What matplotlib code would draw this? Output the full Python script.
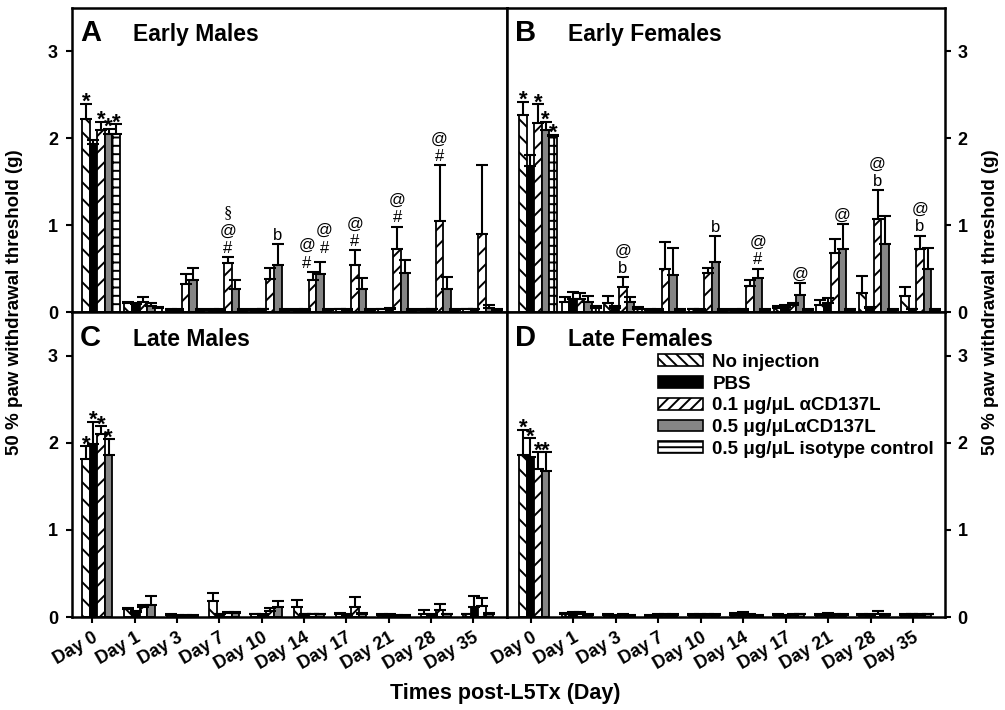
import numpy as np
import matplotlib.pyplot as plt
from matplotlib.patches import Patch

plt.rcParams['font.family'] = ['Liberation Sans', 'DejaVu Sans']
plt.rcParams['font.weight'] = 'bold'
plt.rcParams['hatch.linewidth'] = 1.4
plt.rcParams['hatch.color'] = 'black'

dias = ['Day 0', 'Day 1', 'Day 3', 'Day 7', 'Day 10', 'Day 14', 'Day 17',
        'Day 21', 'Day 28', 'Day 35']
grupos = ['No injection', 'PBS', '0.1 \u03bcg/\u03bcL \u03b1CD137L',
          '0.5 \u03bcg/\u03bcL\u03b1CD137L', '0.5 \u03bcg/\u03bcL isotype control']

# A - Early Males
sem_inj_a = [2.22, 0.10, 0.02, 0.02, 0.02, 0.02, 0.03, 0.03, 0.02, 0.03]
sem_inj_a_err = [0.18, 0.02, 0.01, 0.01, 0.01, 0.01, 0.01, 0.01, 0.01, 0.01]
pbs_a = [1.93, 0.09, 0.02, 0.02, 0.03, 0.02, 0.02, 0.04, 0.03, 0.03]
pbs_a_err = [0.05, 0.01, 0.01, 0.01, 0.01, 0.01, 0.01, 0.01, 0.01, 0.01]
baixa_a = [2.10, 0.12, 0.32, 0.56, 0.38, 0.37, 0.54, 0.72, 1.05, 0.90]
baixa_a_err = [0.09, 0.05, 0.12, 0.07, 0.13, 0.09, 0.17, 0.26, 0.64, 0.79]
alta_a = [2.05, 0.07, 0.37, 0.26, 0.54, 0.44, 0.27, 0.45, 0.26, 0.05]
alta_a_err = [0.06, 0.03, 0.14, 0.11, 0.24, 0.13, 0.12, 0.15, 0.14, 0.03]
iso_a = [2.05, 0.05, 0.02, 0.02, 0.02, 0.02, 0.02, 0.02, 0.02, 0.02]
iso_a_err = [0.11, 0.01, 0.01, 0.01, 0.01, 0.01, 0.01, 0.01, 0.01, 0.01]

# B - Early Females
sem_inj_b = [2.27, 0.12, 0.10, 0.02, 0.03, 0.02, 0.05, 0.08, 0.22, 0.18]
sem_inj_b_err = [0.15, 0.05, 0.08, 0.01, 0.01, 0.01, 0.02, 0.06, 0.20, 0.11]
pbs_b = [1.68, 0.15, 0.05, 0.02, 0.02, 0.02, 0.06, 0.10, 0.05, 0.03]
pbs_b_err = [0.13, 0.08, 0.02, 0.01, 0.01, 0.01, 0.02, 0.06, 0.01, 0.01]
baixa_b = [2.18, 0.15, 0.29, 0.50, 0.45, 0.30, 0.08, 0.68, 1.07, 0.73]
baixa_b_err = [0.21, 0.07, 0.11, 0.31, 0.06, 0.07, 0.02, 0.16, 0.33, 0.15]
alta_b = [2.09, 0.12, 0.12, 0.43, 0.58, 0.39, 0.20, 0.73, 0.78, 0.50]
alta_b_err = [0.10, 0.06, 0.05, 0.31, 0.29, 0.11, 0.13, 0.28, 0.32, 0.24]
iso_b = [2.03, 0.05, 0.04, 0.02, 0.02, 0.02, 0.02, 0.02, 0.02, 0.02]
iso_b_err = [0.01, 0.02, 0.02, 0.01, 0.01, 0.01, 0.01, 0.01, 0.01, 0.01]

# C - Late Males
sem_inj_c = [1.81, 0.09, 0.02, 0.18, 0.03, 0.11, 0.04, 0.02, 0.04, 0.03]
sem_inj_c_err = [0.15, 0.01, 0.01, 0.09, 0.01, 0.09, 0.01, 0.01, 0.04, 0.01]
pbs_c = [1.99, 0.06, 0.01, 0.03, 0.02, 0.03, 0.02, 0.02, 0.02, 0.12]
pbs_c_err = [0.25, 0.01, 0.01, 0.01, 0.01, 0.01, 0.01, 0.01, 0.01, 0.12]
baixa_c = [2.10, 0.11, 0.01, 0.05, 0.07, 0.03, 0.12, 0.01, 0.08, 0.13]
baixa_c_err = [0.09, 0.03, 0.01, 0.01, 0.03, 0.01, 0.11, 0.01, 0.07, 0.09]
alta_c = [1.86, 0.14, 0.01, 0.05, 0.11, 0.03, 0.04, 0.01, 0.03, 0.04]
alta_c_err = [0.18, 0.10, 0.01, 0.01, 0.07, 0.01, 0.01, 0.01, 0.01, 0.01]

# D - Late Females
sem_inj_d = [1.86, 0.03, 0.02, 0.01, 0.02, 0.02, 0.02, 0.02, 0.02, 0.02]
sem_inj_d_err = [0.29, 0.02, 0.01, 0.01, 0.01, 0.03, 0.01, 0.01, 0.01, 0.01]
pbs_d = [1.84, 0.04, 0.01, 0.02, 0.02, 0.03, 0.01, 0.03, 0.02, 0.03]
pbs_d_err = [0.21, 0.02, 0.01, 0.01, 0.01, 0.03, 0.01, 0.02, 0.02, 0.01]
baixa_d = [1.70, 0.04, 0.02, 0.02, 0.02, 0.02, 0.02, 0.02, 0.04, 0.02]
baixa_d_err = [0.19, 0.02, 0.01, 0.01, 0.01, 0.01, 0.01, 0.02, 0.03, 0.02]
alta_d = [1.68, 0.02, 0.01, 0.02, 0.02, 0.01, 0.03, 0.02, 0.02, 0.03]
alta_d_err = [0.21, 0.01, 0.01, 0.01, 0.01, 0.01, 0.01, 0.01, 0.01, 0.01]

# anotacoes: (dia, grupo, simbolos de baixo para cima)
anot_a = [(3, 2, ['#', '@', '\u00a7']), (4, 3, ['b']), (5, 2, ['#', '@']),
          (5, 3, ['#', '@']), (6, 2, ['#', '@']), (7, 2, ['#', '@']),
          (8, 2, ['#', '@'])]
anot_b = [(2, 2, ['b', '@']), (4, 3, ['b']), (5, 3, ['#', '@']),
          (6, 3, ['@']), (7, 3, ['@']), (8, 2, ['b', '@']), (9, 2, ['b', '@'])]
estrelas_a = [0, 2, 3, 4]
estrelas_b = [0, 2, 3, 4]
estrelas_c = [0, 1, 2, 3]
estrelas_d = [0, 1, 2, 3]

estilos = [
    dict(color='white', hatch='\\\\'),
    dict(color='black'),
    dict(color='white', hatch='//'),
    dict(color='#858585'),
    dict(color='white', hatch='++'),
]
largura = 0.178


def plota_painel(ax, valores, erros, desloc, estrelas, anot):
    x = np.arange(len(dias))
    posicoes = []
    for i, (v, e) in enumerate(zip(valores, erros)):
        pos = x + desloc + largura * (i + 0.5)
        posicoes.append(pos)
        ax.bar(pos, v, largura, yerr=[np.zeros(len(e)), e],
               edgecolor='black', linewidth=1.3,
               error_kw=dict(ecolor='black', elinewidth=1.5, capsize=4.5,
                             capthick=1.5), **estilos[i])
    # asteriscos no dia 0
    for i in estrelas:
        topo = valores[i][0] + erros[i][0]
        ax.annotate('*', xy=(posicoes[i][0], topo), xytext=(0, -3),
                    textcoords='offset points', ha='center', va='baseline',
                    fontsize=16)
    # simbolos empilhados; quando dois grupos do mesmo dia tem simbolos,
    # afasta um para a esquerda e outro para a direita
    dias_anot = [d for d, g, s in anot]
    for d, g, simbolos in anot:
        topo = valores[g][d] + erros[g][d]
        dx = 0
        if dias_anot.count(d) > 1:
            dx = -4 if g == 2 else 3
        dy0 = 1 if dx <= 0 else 5
        for k, s in enumerate(simbolos):
            fam = ['Liberation Serif'] if s == '\u00a7' else ['Liberation Sans']
            ax.annotate(s, xy=(posicoes[g][d], topo),
                        xytext=(dx, dy0 + 12.5 * k),
                        textcoords='offset points', ha='center', va='bottom',
                        fontsize=12, fontweight='normal', family=fam)


fig = plt.figure(figsize=(10.05, 7.1), dpi=100)
W, H = 1005, 710
ax_a = fig.add_axes([72 / W, 1 - 312 / H, 435 / W, 304 / H])
ax_b = fig.add_axes([507 / W, 1 - 312 / H, 438 / W, 304 / H])
ax_c = fig.add_axes([72 / W, 1 - 617 / H, 435 / W, 305 / H])
ax_d = fig.add_axes([507 / W, 1 - 617 / H, 438 / W, 305 / H])

plota_painel(ax_a, [sem_inj_a, pbs_a, baixa_a, alta_a, iso_a],
             [sem_inj_a_err, pbs_a_err, baixa_a_err, alta_a_err, iso_a_err],
             -0.24, estrelas_a, anot_a)
plota_painel(ax_b, [sem_inj_b, pbs_b, baixa_b, alta_b, iso_b],
             [sem_inj_b_err, pbs_b_err, baixa_b_err, alta_b_err, iso_b_err],
             -0.28, estrelas_b, anot_b)
plota_painel(ax_c, [sem_inj_c, pbs_c, baixa_c, alta_c],
             [sem_inj_c_err, pbs_c_err, baixa_c_err, alta_c_err],
             -0.24, estrelas_c, [])
plota_painel(ax_d, [sem_inj_d, pbs_d, baixa_d, alta_d],
             [sem_inj_d_err, pbs_d_err, baixa_d_err, alta_d_err],
             -0.28, estrelas_d, [])

letras = {ax_a: ('A', 'Early Males'), ax_b: ('B', 'Early Females'),
          ax_c: ('C', 'Late Males'), ax_d: ('D', 'Late Females')}

for ax in [ax_a, ax_b, ax_c, ax_d]:
    ax.set_ylim(0, 3.5)
    ax.set_yticks([0, 1, 2, 3])
    for s in ax.spines.values():
        s.set_linewidth(1.8)
    ax.tick_params(axis='y', direction='out', length=4, width=1.5,
                   labelsize=13, pad=6)
    letra, titulo = letras[ax]
    ax.text(0.018, 0.89, letra, transform=ax.transAxes, fontsize=21,
            va='baseline')
    ax.text(0.14, 0.89, titulo, transform=ax.transAxes, fontsize=16.5,
            va='baseline')

for ax in [ax_a, ax_c]:
    ax.set_xlim(-0.48, 9.8)
for ax in [ax_b, ax_d]:
    ax.set_xlim(-0.565, 9.755)
    ax.yaxis.tick_right()
    ax.tick_params(axis='y', pad=5)

for ax in [ax_a, ax_b]:
    ax.tick_params(axis='x', bottom=False, labelbottom=False)

for ax in [ax_c, ax_d]:
    ax.set_xticks(np.arange(len(dias)))
    ax.set_xticklabels(dias, rotation=30, ha='right', rotation_mode='anchor')
    ax.tick_params(axis='x', direction='out', length=4, width=1.5,
                   labelsize=13, pad=5)

# legenda
alcas = [Patch(facecolor='white', edgecolor='black', hatch='\\\\\\', lw=1.2),
         Patch(facecolor='black', edgecolor='black', lw=1.2),
         Patch(facecolor='white', edgecolor='black', hatch='///', lw=1.2),
         Patch(facecolor='#858585', edgecolor='black', lw=1.2),
         Patch(facecolor='white', edgecolor='black', hatch='---', lw=1.2)]
ax_d.legend(alcas, grupos, loc='upper left', bbox_to_anchor=(658 / W, 1 - 354 / H),
            bbox_transform=fig.transFigure, frameon=False, fontsize=13.5,
            handlelength=2.4, handleheight=0.6, handletextpad=0.5,
            labelspacing=0.25, borderpad=0, borderaxespad=0)

ylab = '50 % paw withdrawal threshold (g)'
fig.text(15 / W, 1 - 302 / H, ylab, rotation=90, ha='center', va='center',
         fontsize=13.5)
fig.text(990 / W, 1 - 302 / H, ylab, rotation=90, ha='center', va='center',
         fontsize=13.5)
fig.text(505 / W, 1 - 693 / H, 'Times post-L5Tx (Day)', ha='center',
         va='center', fontsize=15.5)

fig.savefig('out.png', dpi=100)
